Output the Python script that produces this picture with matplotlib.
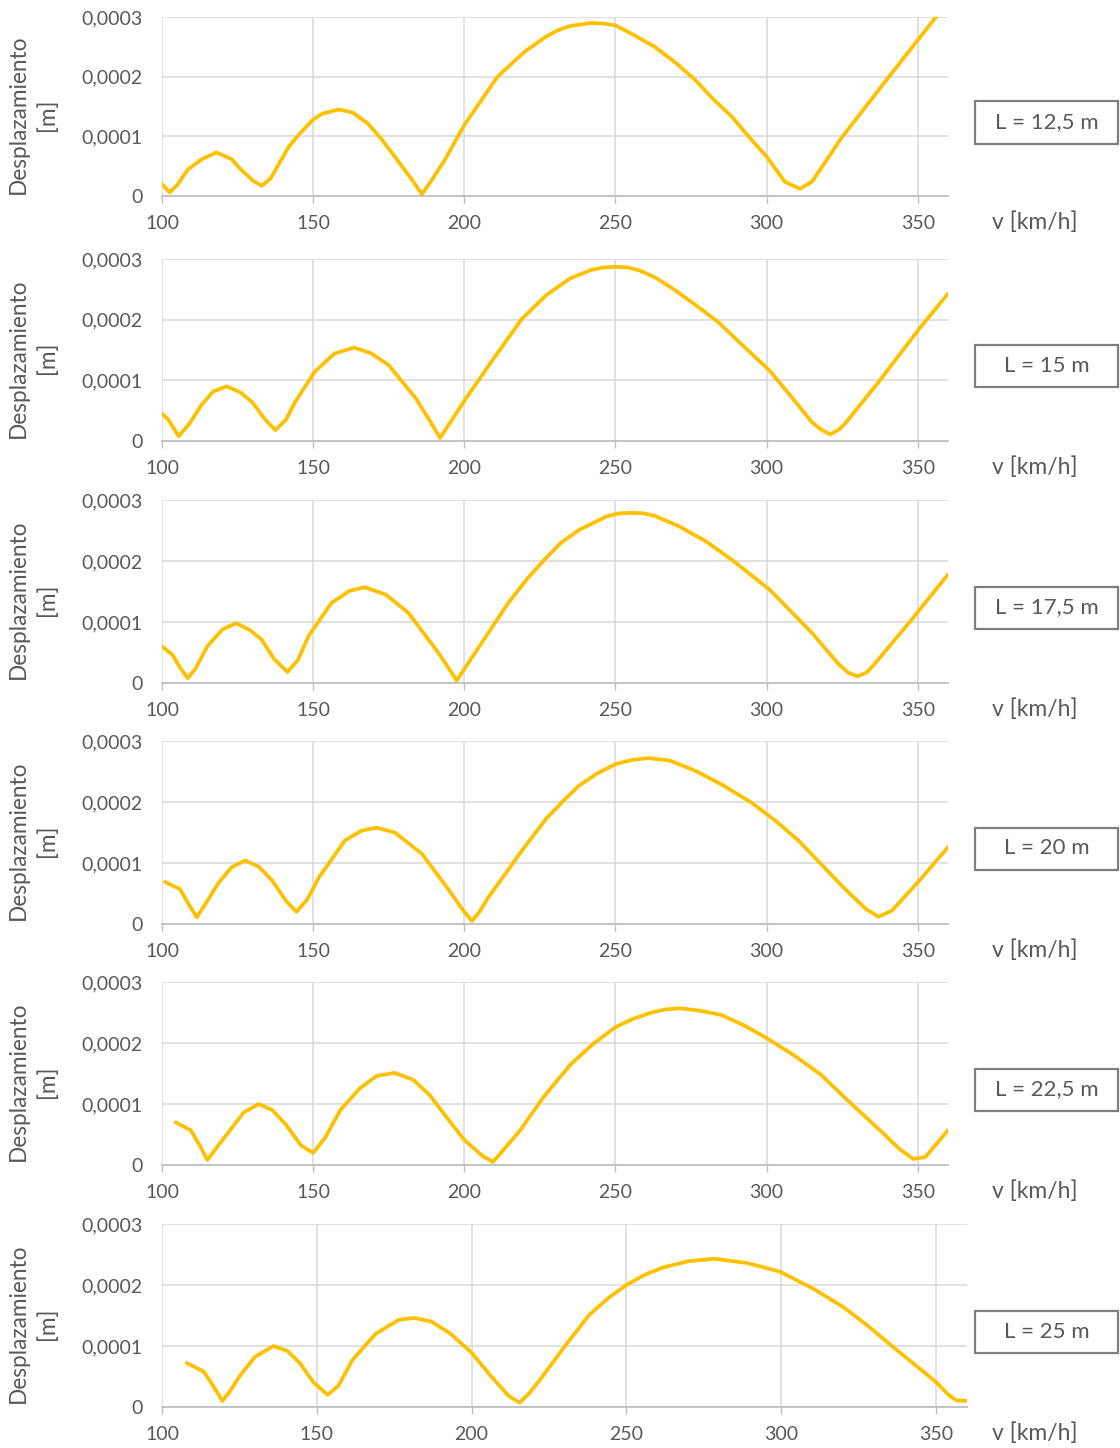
import numpy as np
import matplotlib
matplotlib.use('Agg')
import matplotlib.pyplot as plt
from matplotlib.patches import Rectangle
from matplotlib.ticker import FuncFormatter

plt.rcParams['font.family'] = ['Lato', 'DejaVu Sans']

# velocidad [km/h] y desplazamiento [x1e-5 m]
v1 = [100, 102.5, 105, 108.5, 113, 118, 123, 126, 130, 133, 136, 142, 146, 150, 153, 158.5, 163, 168, 172.5, 177,
      183, 186, 189, 193.5, 200, 211, 220, 227, 231, 235, 242, 246, 250, 256, 263, 270, 276.5, 282, 288.5, 294,
      300, 306, 311, 315, 325, 340.5, 356, 360]
d1 = [2.0, 0.6, 1.8, 4.4, 6.1, 7.3, 6.2, 4.5, 2.6, 1.7, 3.0, 8.3, 10.7, 12.8, 13.8, 14.5, 14.0, 12.2, 9.6, 6.6,
      2.5, 0.3, 2.5, 6.0, 11.9, 20.0, 24.2, 26.7, 27.8, 28.5, 29.0, 28.9, 28.6, 27.0, 25.0, 22.3, 19.4, 16.4, 13.3, 10.0,
      6.6, 2.4, 1.2, 2.4, 9.9, 20.0, 30.0, 31.0]

v2 = [100, 102, 105.5, 109, 113, 117, 121.5, 126, 130, 134, 137.5, 141, 144, 150.5, 157, 163.5, 169, 175, 184, 189,
      192, 195, 200.5, 210, 219, 227, 235, 242, 246, 250, 254, 258, 263, 269, 276, 284, 292, 301, 308, 315,
      318, 321, 324, 326, 337, 350.5, 360]
d2 = [4.5, 3.6, 0.8, 2.8, 5.9, 8.2, 9.0, 8.0, 6.3, 3.6, 1.8, 3.5, 6.4, 11.4, 14.4, 15.4, 14.5, 12.5, 7.0, 3.0,
      0.5, 2.8, 7.0, 13.8, 20.1, 24.0, 26.8, 28.2, 28.6, 28.7, 28.6, 28.1, 27.0, 25.1, 22.6, 19.6, 15.8, 11.6, 7.4, 3.1,
      1.9, 1.1, 1.9, 2.9, 9.7, 18.5, 24.3]

v3 = [100, 103.5, 106, 108.5, 111, 115, 120, 124.5, 129, 133, 137, 141.5, 145, 148.5, 156, 162, 167, 174, 181.5, 191.5,
      195, 197.5, 200, 203.5, 214.5, 221, 227, 232, 238, 247, 251, 255.5, 259.5, 263, 271, 280, 288.5, 301, 315, 324,
      327, 330, 333, 335, 348, 360]
d3 = [6.0, 4.6, 2.5, 0.8, 2.3, 6.0, 8.8, 9.8, 8.7, 7.1, 4.0, 1.8, 3.8, 7.7, 13.1, 15.1, 15.7, 14.5, 11.5, 4.9,
      2.3, 0.4, 2.3, 4.9, 13.1, 17.2, 20.5, 23.0, 25.1, 27.3, 27.8, 27.9, 27.8, 27.4, 25.7, 23.2, 20.2, 15.3, 8.2, 3.0,
      1.7, 1.1, 1.7, 2.7, 10.4, 17.8]

v4 = [101, 106, 108.5, 111.5, 114.5, 118.5, 123, 127.5, 132, 136.5, 141, 144.5, 148, 152, 160.5, 166, 171, 177, 186, 195,
      199.5, 202.5, 205, 208, 219, 227, 233, 238, 244, 250, 255.5, 261, 268, 276.5, 285, 295, 303, 310.5, 326, 333,
      337, 341.5, 350.5, 360]
d4 = [6.9, 5.7, 3.5, 1.1, 3.4, 6.6, 9.3, 10.4, 9.4, 7.1, 3.8, 2.0, 4.0, 7.7, 13.7, 15.3, 15.8, 15.0, 11.5, 5.5,
      2.3, 0.5, 2.0, 4.4, 12.0, 17.2, 20.3, 22.7, 24.7, 26.2, 26.9, 27.2, 26.8, 25.1, 22.9, 19.9, 16.9, 13.7, 5.7, 2.4,
      1.2, 2.2, 7.1, 12.6]

v5 = [104.5, 109.5, 112.5, 115, 118, 122.5, 127, 132, 136.5, 141, 146, 150, 154, 159, 165.5, 171, 177, 183, 188.5, 194,
      200, 206, 209.5, 213, 218.5, 226, 235, 242.5, 250, 256, 262, 266.5, 271, 278, 285, 292.5, 300, 309, 318, 327,
      337.5, 344, 348.5, 352.5, 360]
d5 = [7.0, 5.7, 3.2, 0.8, 2.8, 5.7, 8.6, 10.0, 9.0, 6.6, 3.2, 2.0, 4.5, 9.0, 12.6, 14.6, 15.1, 14.0, 11.5, 7.9,
      4.1, 1.5, 0.5, 2.5, 5.7, 11.0, 16.4, 19.8, 22.6, 24.0, 25.0, 25.5, 25.7, 25.3, 24.6, 22.9, 20.8, 18.0, 14.8, 10.5,
      5.7, 2.6, 1.0, 1.3, 5.7]

v6 = [108, 113.5, 116.5, 119.5, 122, 125, 130, 136, 140.5, 144.5, 149, 153.5, 157, 161.5, 169, 176.5, 181.5, 187, 193, 200,
      206, 212, 215.5, 218.5, 222, 230, 238, 244, 250, 256, 262, 270, 278.5, 289, 299.5, 310, 320, 328, 336, 343,
      350, 354, 356.5, 360]
d6 = [7.2, 5.8, 3.5, 1.0, 2.6, 5.0, 8.2, 10.0, 9.2, 7.2, 4.0, 2.0, 3.5, 7.7, 12.0, 14.3, 14.6, 14.0, 12.1, 8.9,
      5.2, 1.8, 0.7, 2.2, 4.4, 9.9, 15.1, 17.8, 20.0, 21.7, 22.9, 23.9, 24.3, 23.6, 22.2, 19.5, 16.4, 13.3, 9.9, 7.0,
      4.1, 2.0, 1.1, 1.0]

labels = ['L = 12,5 m', 'L = 15 m', 'L = 17,5 m', 'L = 20 m', 'L = 22,5 m', 'L = 25 m']
xticks = [100, 150, 200, 250, 300, 350]
yticks = [0, 0.0001, 0.0002, 0.0003]

# posiciones en pixeles
W, H = 1120, 1448
tops = [17, 259, 500, 741, 982, 1224]
bots = [196, 441, 683, 924, 1165, 1407]
rights = [948, 948, 948, 948, 948, 967]
left = 162

gris = '#595959'


def fmt(val, pos):
    if val == 0:
        return '0'
    return f'{val:.4f}'.replace('.', ',')


fig = plt.figure(figsize=(W / 100, H / 100), dpi=100)

series = [(v1, d1), (v2, d2), (v3, d3), (v4, d4), (v5, d5), (v6, d6)]
for i, (v, d) in enumerate(series):
    top, bot, right = tops[i], bots[i], rights[i]
    ax = fig.add_axes([left / W, 1 - bot / H, (right - left) / W, (bot - top) / H])
    ax.plot(v, np.array(d) * 1e-5, color='#FFC000', lw=2.7,
            solid_joinstyle='round', solid_capstyle='round')
    ax.set_xlim(100, 360)
    ax.set_ylim(0, 0.0003)
    ax.set_xticks(xticks)
    ax.set_yticks(yticks)
    ax.yaxis.set_major_formatter(FuncFormatter(fmt))
    ax.grid(True, color='#D9D9D9', lw=1.1)
    ax.set_axisbelow(True)
    for s in ['top', 'right', 'left']:
        ax.spines[s].set_visible(False)
    ax.spines['bottom'].set_color('#BFBFBF')
    ax.spines['bottom'].set_linewidth(1.3)
    ax.tick_params(axis='x', length=5, width=1, color='#BFBFBF', labelsize=14, labelcolor=gris, pad=9)
    ax.tick_params(axis='y', length=0, labelsize=14, labelcolor=gris, pad=14)

    mid = (top + bot) / 2
    fig.text(33 / W, 1 - (mid + 8) / H, 'Desplazamiento\n[m]', rotation=90, ha='center', va='center',
             ma='center', fontsize=16.3, color=gris, linespacing=1.45)
    fig.add_artist(Rectangle((975 / W, 1 - (mid + 37) / H), 143 / W, 42 / H, transform=fig.transFigure,
                             fill=False, ec='#7F7F7F', lw=1.6))
    fig.text(1047 / W, 1 - (mid + 16) / H, labels[i], ha='center', va='center', fontsize=16, color=gris)
    fig.text(1035 / W, 1 - (bot + 26) / H, 'v [km/h]', ha='center', va='center', fontsize=16.5, color=gris)

fig.savefig('out.png', dpi=100)
